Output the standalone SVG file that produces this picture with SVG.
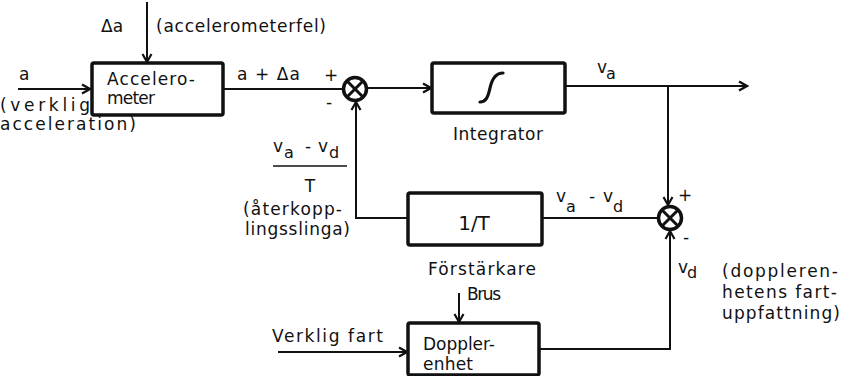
<svg xmlns="http://www.w3.org/2000/svg" width="844" height="376" viewBox="0 0 844 376">
<style>
text{font-family:"DejaVu Sans","Liberation Sans",sans-serif;font-size:17px;fill:#111;}
.box{fill:#fff;stroke:#111;stroke-width:3.5;}
.sum{fill:#fff;stroke:#111;stroke-width:3.5;}
.x{stroke:#111;stroke-width:3;}
.wire{fill:none;stroke:#111;stroke-width:2;}
.arr{marker-end:url(#ah);}
.sub{font-size:16px;}
</style>
<defs>
<marker id="ah" viewBox="-10 -6 12 12" refX="0" refY="0" markerWidth="12" markerHeight="12" orient="auto" markerUnits="userSpaceOnUse">
<path d="M-8,-4.5 L0,0 L-8,4.5" fill="none" stroke="#111" stroke-width="2.2" stroke-linejoin="miter"/>
</marker>
</defs>
<rect width="844" height="376" fill="#fff"/>

<g id="connectors">
<line class="wire arr" x1="147" y1="2" x2="147" y2="62"/>
<line class="wire arr" x1="18" y1="89" x2="90" y2="89"/>
<line class="wire" x1="223" y1="89" x2="343" y2="89"/>
<line class="wire arr" x1="367" y1="88" x2="431" y2="88"/>
<line class="wire arr" x1="565" y1="86" x2="747" y2="86"/>
<polyline class="wire arr" points="668,86 668,205"/>
<polyline class="wire arr" points="408,218 356,218 356,102"/>
<line class="wire" x1="542" y1="218" x2="658" y2="218"/>
<polyline class="wire arr" points="538,349 670,349 670,231"/>
<line class="wire arr" x1="278" y1="352" x2="407" y2="352"/>
<line class="wire arr" x1="459" y1="293" x2="459" y2="322"/>
<line x1="273" y1="166" x2="347" y2="166" stroke="#111" stroke-width="1.5"/>
</g>

<g id="accelerometer">
<rect class="box" x="92" y="63" width="131" height="52" rx="2"/>
<text x="107" y="85" textLength="88" lengthAdjust="spacing">Accelero-</text>
<text x="107" y="104" textLength="48" lengthAdjust="spacing">meter</text>
</g>

<g id="sum1">
<circle class="sum" cx="355" cy="89" r="11.5"/>
<line class="x" x1="347" y1="81" x2="363" y2="97"/>
<line class="x" x1="363" y1="81" x2="347" y2="97"/>
</g>

<g id="integrator">
<rect class="box" x="432" y="63" width="133" height="50" rx="2"/>
<path d="M480,102 C486,102 488,97 490,88 C492,79 496,73 503,73" fill="none" stroke="#111" stroke-width="3.2" stroke-linecap="round"/>
</g>

<g id="sum2">
<circle class="sum" cx="670" cy="218" r="11.5"/>
<line class="x" x1="662" y1="210" x2="678" y2="226"/>
<line class="x" x1="678" y1="210" x2="662" y2="226"/>
</g>

<g id="forstarkare">
<rect class="box" x="408" y="193" width="134" height="52" rx="2"/>
<text x="474" y="230" text-anchor="middle" style="font-size:20px">1/T</text>
</g>

<g id="dopplerenhet">
<rect class="box" x="408" y="323" width="131" height="52" rx="2"/>
<text x="423" y="350" textLength="72" lengthAdjust="spacing">Doppler-</text>
<text x="423" y="370" textLength="50" lengthAdjust="spacing">enhet</text>
</g>

<g id="labels">
<text x="101" y="32">Δa</text>
<text x="156" y="32" textLength="170" lengthAdjust="spacing">(accelerometerfel)</text>
<text x="19" y="80">a</text>
<text x="0" y="111" textLength="90" lengthAdjust="spacing">(verklig</text>
<text x="0" y="130" textLength="136" lengthAdjust="spacing">acceleration)</text>
<text x="237" y="80" textLength="63" lengthAdjust="spacing">a + Δa</text>
<text x="331" y="81" text-anchor="middle">+</text>
<text x="329" y="108" text-anchor="middle">-</text>

<text x="273" y="152">v</text><text class="sub" x="284" y="158">a</text>
<text x="308" y="152" text-anchor="middle">-</text>
<text x="318" y="152">v</text><text class="sub" x="329" y="158">d</text>
<text x="310" y="192" text-anchor="middle">T</text>
<text x="243" y="215" textLength="99" lengthAdjust="spacing">(återkopp-</text>
<text x="245" y="235" textLength="105" lengthAdjust="spacing">lingsslinga)</text>

<text x="453" y="140" textLength="90" lengthAdjust="spacing">Integrator</text>
<text x="597" y="73">v</text><text class="sub" x="606" y="79">a</text>

<text x="556" y="202">v</text><text class="sub" x="566" y="212">a</text>
<text x="592" y="202" text-anchor="middle">-</text>
<text x="603" y="202">v</text><text class="sub" x="613" y="212">d</text>
<text x="685" y="201" text-anchor="middle">+</text>
<text x="686" y="243" text-anchor="middle">-</text>

<text x="428" y="275" textLength="108" lengthAdjust="spacing">Förstärkare</text>
<text x="467" y="300" textLength="34" lengthAdjust="spacing">Brus</text>
<text x="272" y="342" textLength="111" lengthAdjust="spacing">Verklig fart</text>

<text x="678" y="273">v</text><text class="sub" x="687" y="278">d</text>
<text x="722" y="277" textLength="116" lengthAdjust="spacing">(doppleren-</text>
<text x="722" y="298" textLength="115" lengthAdjust="spacing">hetens fart-</text>
<text x="722" y="319" textLength="118" lengthAdjust="spacing">uppfattning)</text>
</g>
</svg>
